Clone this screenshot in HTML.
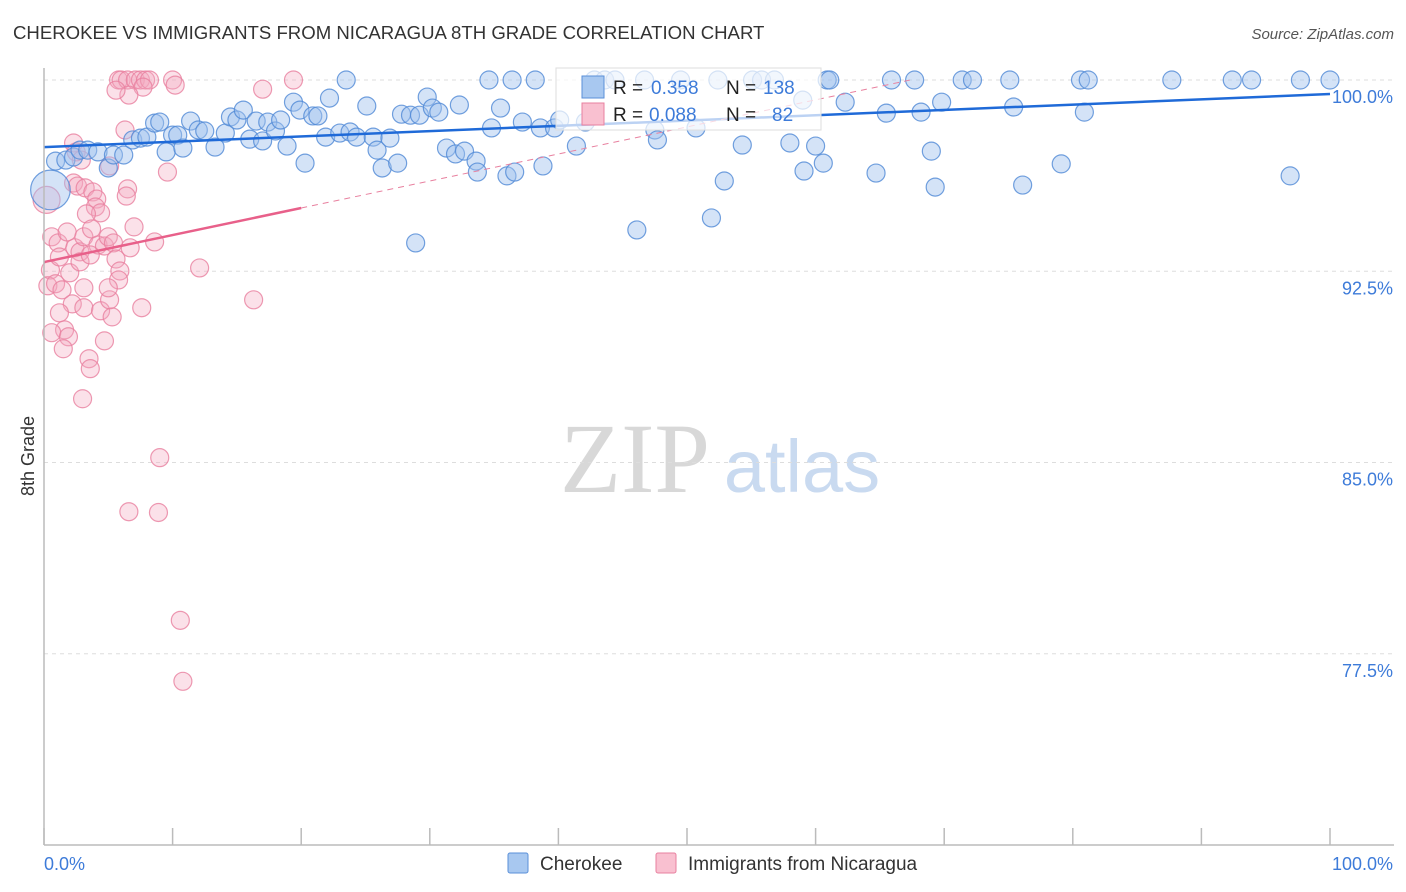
<!DOCTYPE html>
<html><head><meta charset="utf-8"><style>
body{margin:0;background:#fff;font-family:"Liberation Sans",sans-serif;}
#wrap{position:relative;width:1406px;height:892px;overflow:hidden;}
</style></head><body>
<div id="wrap">
<svg id="svg" width="1406" height="892" xmlns="http://www.w3.org/2000/svg">
<text x="13" y="39" font-size="18.6" fill="#333">CHEROKEE VS IMMIGRANTS FROM NICARAGUA 8TH GRADE CORRELATION CHART</text>
<text x="1394" y="39" font-size="15" fill="#555" font-style="italic" text-anchor="end">Source: ZipAtlas.com</text>
<text x="635" y="492" font-size="100" fill="#d8d8d8" font-family="Liberation Serif, serif" text-anchor="middle">ZIP</text>
<text x="802" y="492" font-size="74" fill="#c9daf0" text-anchor="middle">atlas</text>
<text transform="translate(34,456) rotate(-90)" font-size="18" fill="#333" text-anchor="middle">8th Grade</text>
<g id="grid"></g><g id="pts"></g><g id="trend"></g>
<line x1="44" y1="68" x2="44" y2="845" stroke="#bbb" stroke-width="1.5"/>
<line x1="44" y1="845" x2="1394" y2="845" stroke="#bbb" stroke-width="1.5"/>
<g id="xticks"></g>
<text x="44" y="870" font-size="18" fill="#3d7bd9">0.0%</text>
<text x="1393" y="870" font-size="18" fill="#3d7bd9" text-anchor="end">100.0%</text>
<g>
<rect x="556" y="68" width="265" height="62" fill="#fff" fill-opacity="0.7" stroke="#ddd"/>
<rect x="582" y="76" width="22" height="22" fill="#a8c8f0" stroke="#5a8fd8"/>
<rect x="582" y="103" width="22" height="22" fill="#f9c0d0" stroke="#e8809f"/>
<text x="613" y="94" font-size="19" fill="#222">R =</text>
<text x="651" y="94" font-size="19" fill="#3d7bd9">0.358</text>
<text x="726" y="94" font-size="19" fill="#222">N =</text>
<text x="763" y="94" font-size="19" fill="#3d7bd9">138</text>
<text x="613" y="121" font-size="19" fill="#222">R =</text>
<text x="649" y="121" font-size="19" fill="#3d7bd9">0.088</text>
<text x="726" y="121" font-size="19" fill="#222">N =</text>
<text x="772" y="121" font-size="19" fill="#3d7bd9">82</text>
</g>
<g>
<rect x="508" y="853" width="20" height="20" rx="2" fill="#a8c8f0" stroke="#5a8fd8"/>
<text x="540" y="870" font-size="19" fill="#333">Cherokee</text>
<rect x="656" y="853" width="20" height="20" rx="2" fill="#f9c0d0" stroke="#e8809f"/>
<text x="688" y="870" font-size="19" fill="#333">Immigrants from Nicaragua</text>
</g>
</svg></div>
<script>
const yTicks=[100,92.5,85,77.5];
const yTickLabels=["100.0%","92.5%","85.0%","77.5%"];
const xTicks=[0,10,20,30,40,50,60,70,80,90,100];
const blueX=[0.9,1.7,2.3,2.8,3.4,4.2,5.0,5.4,6.2,6.9,7.5,8.0,8.6,9.0,9.5,10.0,10.4,10.8,11.4,12.0,12.5,13.3,14.1,14.5,15.0,15.5,16.0,16.5,17.0,17.4,18.0,18.4,18.9,19.4,19.9,20.3,20.9,21.3,21.9,22.2,23.0,23.5,23.8,24.3,25.1,25.6,25.9,26.3,26.9,27.5,27.8,28.5,28.9,29.2,29.8,30.2,30.7,31.3,32.0,32.3,32.7,33.6,33.7,34.6,34.8,35.5,36.0,36.4,36.6,37.2,38.2,38.6,38.8,39.7,40.1,41.4,42.1,42.8,43.6,44.4,46.1,46.7,47.5,47.7,49.5,50.7,51.9,52.4,52.9,54.3,55.1,55.8,56.8,58.0,59.0,59.1,60.0,60.6,60.9,61.1,62.3,64.7,65.5,65.9,67.7,68.2,69.0,69.3,69.8,71.4,72.2,75.1,75.4,76.1,79.1,80.6,80.9,81.2,87.7,92.4,93.9,96.9,97.7,100.0,0.5];
const blueY=[96.82,96.86,96.98,97.25,97.25,97.18,96.55,97.06,97.06,97.65,97.72,97.76,98.31,98.35,97.18,97.84,97.84,97.33,98.39,98.04,98.00,97.37,97.92,98.55,98.43,98.82,97.68,98.39,97.61,98.35,98.00,98.43,97.41,99.13,98.82,96.74,98.59,98.59,97.76,99.29,97.92,100,97.96,97.76,98.98,97.76,97.25,96.55,97.72,96.74,98.66,98.62,93.61,98.62,99.33,98.90,98.74,97.33,97.10,99.02,97.21,96.82,96.39,100,98.12,98.90,96.24,100,96.39,98.35,100,98.12,96.63,98.12,98.43,97.41,98.35,100,100,100,94.12,100,98.04,97.65,100,98.12,94.59,100,96.04,97.45,100,100,100,97.53,99.21,96.43,97.41,96.74,100,100,99.13,96.35,98.70,100,100,98.74,97.21,95.80,99.13,100,100,100,98.94,95.88,96.71,100,98.74,100,100,100,100,96.24,100,100,95.69];
const blueW=blueX.map((v,i)=>i===blueX.length-1?2.2:1);
const pinkX=[5.8,6.0,6.5,7.1,7.5,7.9,8.2,10.0,10.2,7.7,6.6,5.6,17.0,19.4,6.3,9.6,5.1,2.3,2.5,2.9,2.3,2.6,3.2,3.8,4.1,4.0,4.4,3.3,6.5,6.4,7.0,0.2,0.6,1.1,1.8,2.4,2.8,3.1,3.7,4.2,4.7,5.0,5.4,5.6,0.5,1.2,2.0,2.8,3.1,3.6,5.9,6.7,8.6,12.1,16.3,0.3,0.9,1.4,2.2,3.1,4.4,5.3,5.1,7.6,1.2,1.6,0.6,1.9,1.5,3.5,3.6,4.7,3.0,9.0,6.6,8.9,10.6,10.8,5.8,5.0];
const pinkY=[100,100,100,100,100,100,100,100,99.80,99.72,99.41,99.60,99.64,100,98.04,96.39,96.63,97.53,97.18,96.86,95.96,95.84,95.77,95.61,95.33,95.02,94.79,94.75,95.73,95.45,94.24,95.30,93.85,93.61,94.04,93.42,93.26,93.85,94.16,93.53,93.49,93.85,93.61,92.98,92.55,93.06,92.44,92.87,91.85,93.14,92.51,93.42,93.65,92.63,91.38,91.93,92.01,91.77,91.22,91.07,90.95,90.71,91.38,91.07,90.87,90.20,90.09,89.93,89.46,89.07,88.68,89.77,87.50,85.19,83.07,83.04,78.81,76.42,92.16,91.85];
const pinkW=pinkX.map((v,i)=>i===31?1.5:1);
const blueTrend=[97.37,99.45];
const pinkTrend=[92.86,94.98];
const pinkSolidEnd=20;

const NS="http://www.w3.org/2000/svg";
const xS=v=>44+v*12.86;
const yS=v=>80+(100-v)*25.5;
function mk(tag,attrs,parent){const e=document.createElementNS(NS,tag);for(const k in attrs)e.setAttribute(k,attrs[k]);parent.appendChild(e);return e;}
const grid=document.getElementById('grid');
yTicks.forEach((t,i)=>{
  const l=mk('line',{x1:44,x2:1394,y1:yS(t),y2:yS(t),stroke:'#ddd','stroke-dasharray':'4,4'},grid);
  
  
  const tx=mk('text',{x:1393,y:yS(t)+23,'font-size':18,fill:'#3d7bd9','text-anchor':'end'},grid);
  tx.textContent=yTickLabels[i];
  
  
});
const xt=document.getElementById('xticks');
xTicks.forEach(t=>{
  const l=mk('line',{x1:xS(t),x2:xS(t),y1:828,y2:845,stroke:'#bbb','stroke-width':1.5},xt);
  
  
});
const pts=document.getElementById('pts');
pinkX.forEach((x,i)=>{
  const c=mk('circle',{cx:xS(x),cy:yS(pinkY[i]),r:9*pinkW[i],fill:'#f4a8bf','fill-opacity':0.35,stroke:'#e8809f','stroke-opacity':0.8,'stroke-width':1.2},pts);
  
  
});
blueX.forEach((x,i)=>{
  const c=mk('circle',{cx:xS(x),cy:yS(blueY[i]),r:9*blueW[i],fill:'#a0c2ee','fill-opacity':0.45,stroke:'#4f88d6','stroke-opacity':0.8,'stroke-width':1.2},pts);
  
  
});
const tr=document.getElementById('trend');
const bl=mk('line',{x1:xS(0),y1:yS(blueTrend[0]),x2:xS(100),y2:yS(blueTrend[1]),stroke:'#1f6ad8','stroke-width':2.5},tr);


const pSlope=(pinkTrend[1]-pinkTrend[0])/pinkSolidEnd;
const pAt=x=>pinkTrend[0]+pSlope*x;
const xEnd=Math.min(100,(100-pinkTrend[0])/pSlope);
const pd=mk('line',{x1:xS(pinkSolidEnd),y1:yS(pAt(pinkSolidEnd)),x2:xS(xEnd),y2:yS(pAt(xEnd)),stroke:'#e8809f','stroke-width':1,'stroke-dasharray':'6,5'},tr);


const ps=mk('line',{x1:xS(0),y1:yS(pAt(0)),x2:xS(pinkSolidEnd),y2:yS(pAt(pinkSolidEnd)),stroke:'#e8608a','stroke-width':2.5},tr);


</script>
</body></html>
